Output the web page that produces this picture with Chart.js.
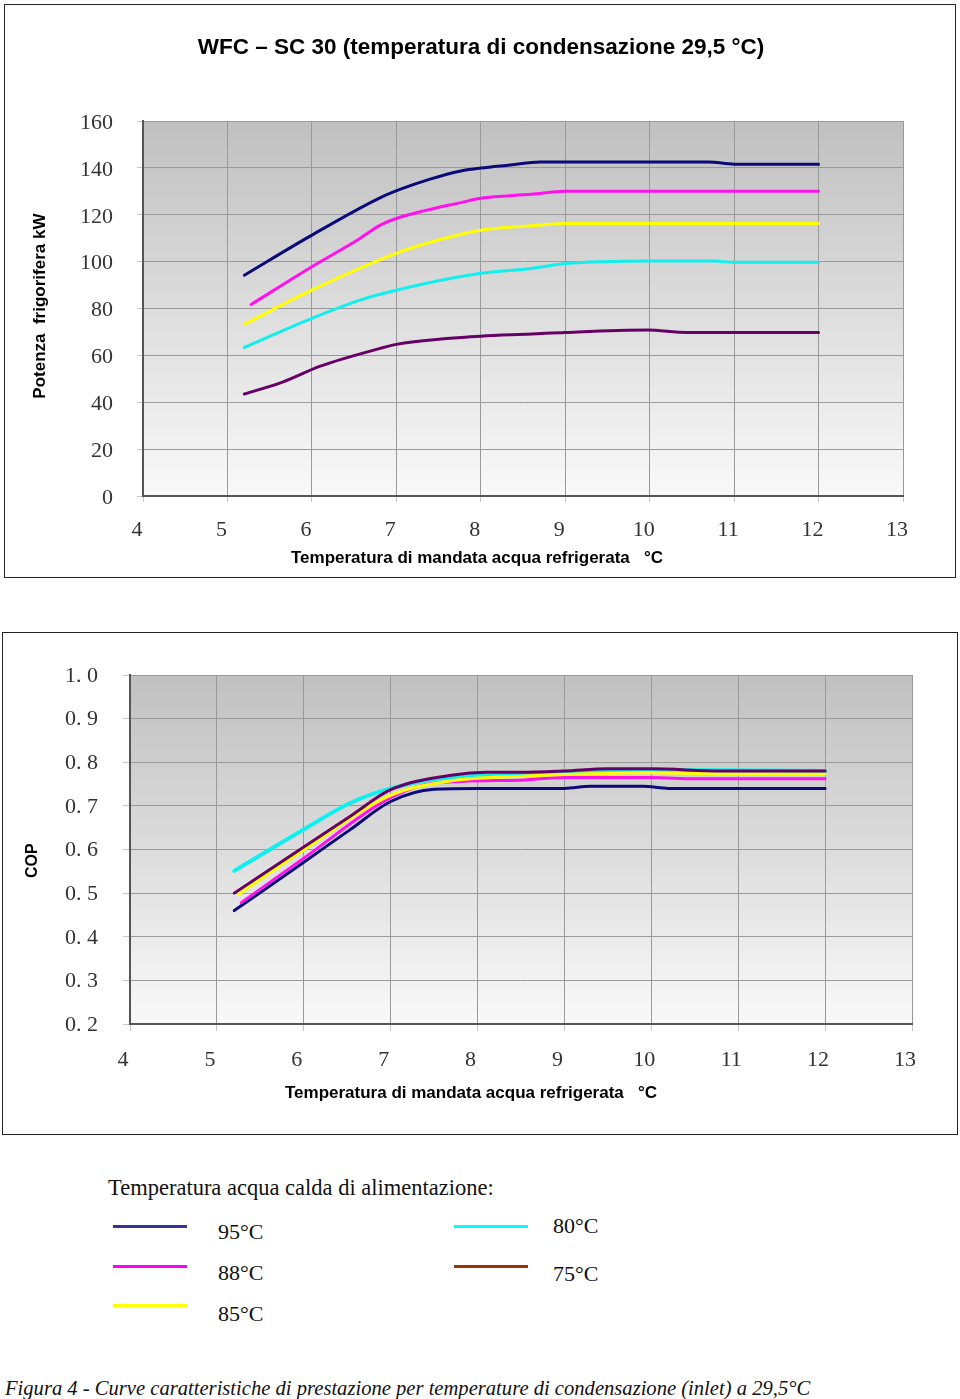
<!DOCTYPE html>
<html>
<head>
<meta charset="utf-8">
<script src="https://cdn.jsdelivr.net/npm/chart.js"></script>
<style>
  body { margin: 0; background: #fff; width: 960px; height: 1399px; position: relative; overflow: hidden; }
  .box { position: absolute; border: 1.5px solid #222; box-sizing: border-box; }
  canvas { position: absolute; }
  .serif { font-family: 'Liberation Serif', 'Times New Roman', serif; color: #111; position: absolute; white-space: nowrap; line-height: 1; }
  .sans { font-family: 'Liberation Sans', Arial, sans-serif; font-weight: bold; color: #000; position: absolute; white-space: nowrap; line-height: 1; transform: translate(-50%, -50%); }
  .swatch { position: absolute; height: 3px; width: 74px; }
</style>
</head>
<body>
<div class="box" style="left:4px;top:4px;width:952px;height:574px;"></div>
<canvas id="kwChart" width="948" height="570" style="left:6px;top:6px;"></canvas>
<div class="sans" style="left:481px;top:47px;font-size:22.5px;">WFC – SC 30 (temperatura di condensazione 29,5 °C)</div>
<div class="sans" style="left:477px;top:557px;font-size:17px;">Temperatura di mandata acqua refrigerata &nbsp;&nbsp;°C</div>

<div class="box" style="left:2px;top:632px;width:956px;height:503px;"></div>
<canvas id="copChart" width="952" height="499" style="left:4px;top:634px;"></canvas>
<div class="sans" style="left:471px;top:1092px;font-size:17px;">Temperatura di mandata acqua refrigerata &nbsp;&nbsp;°C</div>

<div class="serif" style="left:108px;top:1177px;font-size:22.5px;">Temperatura acqua calda di alimentazione:</div>
<div class="swatch" style="left:113px;top:1225px;background:#333399;"></div>
<div class="serif" style="left:218px;top:1221px;font-size:22px;">95°C</div>
<div class="swatch" style="left:113px;top:1265px;background:#ff00ff;"></div>
<div class="serif" style="left:218px;top:1262px;font-size:22px;">88°C</div>
<div class="swatch" style="left:113px;top:1304px;background:#ffff00;"></div>
<div class="serif" style="left:218px;top:1303px;font-size:22px;">85°C</div>
<div class="swatch" style="left:454px;top:1225px;background:#00ffff;"></div>
<div class="serif" style="left:553px;top:1215px;font-size:22px;">80°C</div>
<div class="swatch" style="left:454px;top:1265px;background:#993300;"></div>
<div class="serif" style="left:553px;top:1263px;font-size:22px;">75°C</div>

<div class="serif" style="left:5px;top:1378px;font-size:20.6px;font-style:italic;">Figura 4 - Curve caratteristiche di prestazione per temperature di condensazione (inlet) a 29,5°C</div>

<script>
// valori (x = temperatura di mandata °C)
const serie = ['95°C', '88°C', '85°C', '80°C', '75°C'];
const colori = ['#0a0a78', '#ff11ee', '#ffff00', '#11eeee', '#660066'];

// potenza frigorifera kW
const kw95x = [5.2, 6.0, 6.8, 7.05, 7.4, 7.75, 8.0, 8.35, 8.7, 10.7, 11.0, 12.0];
const kw95y = [94.2, 111.3, 127.1, 130.9, 135.2, 138.6, 139.9, 141.2, 142.5, 142.5, 141.6, 141.6];
const kw88x = [5.28, 6.0, 6.57, 6.81, 7.0, 7.8, 8.0, 8.6, 9.0, 12.0];
const kw88y = [81.7, 97.8, 109.9, 115.6, 118.4, 125.5, 127.0, 128.7, 130.0, 130.0];
const kw85x = [5.2, 6.0, 7.0, 7.5, 8.0, 8.6, 9.0, 12.0];
const kw85y = [73.2, 87.8, 103.5, 109.2, 113.4, 115.3, 116.3, 116.3];
const kw80x = [5.2, 6.0, 6.57, 7.0, 8.0, 8.6, 9.0, 10.0, 10.76, 11.0, 12.0];
const kw80y = [63.4, 75.8, 83.6, 87.8, 95.0, 97.1, 99.2, 100.3, 100.3, 99.7, 99.7];
const kw75x = [5.2, 5.66, 6.1, 6.81, 7.0, 7.6, 8.0, 8.6, 9.0, 9.97, 10.44, 12.0];
const kw75y = [43.5, 48.7, 55.4, 63.0, 64.7, 67.2, 68.2, 69.1, 69.8, 70.8, 69.8, 69.8];

// COP
const cop95x = [5.2, 6.0, 6.53, 7.0, 7.5, 8.0, 9.0, 9.3, 9.9, 10.2, 12.0];
const cop95y = [0.460, 0.571, 0.645, 0.710, 0.738, 0.740, 0.740, 0.745, 0.745, 0.740, 0.740];
const cop88x = [5.28, 6.0, 7.0, 7.5, 8.5, 9.0, 10.0, 10.5, 12.0];
const cop88y = [0.478, 0.580, 0.719, 0.752, 0.759, 0.765, 0.765, 0.762, 0.762];
const cop85x = [5.25, 6.0, 7.0, 7.72, 8.5, 9.0, 10.0, 10.8, 12.0];
const cop85y = [0.497, 0.599, 0.724, 0.758, 0.768, 0.772, 0.776, 0.773, 0.773];
const cop80x = [5.2, 6.0, 6.53, 7.0, 7.72, 8.5, 9.0, 10.0, 12.0];
const cop80y = [0.551, 0.646, 0.706, 0.740, 0.766, 0.771, 0.778, 0.782, 0.780];
const cop75x = [5.2, 6.0, 6.57, 7.0, 7.72, 8.1, 8.5, 9.0, 9.5, 10.0, 10.8, 12.0];
const cop75y = [0.500, 0.606, 0.681, 0.737, 0.771, 0.777, 0.777, 0.780, 0.785, 0.785, 0.780, 0.780];

const copTickLabels = ['0. 2', '0. 3', '0. 4', '0. 5', '0. 6', '0. 7', '0. 8', '0. 9', '1. 0'];

function punti(xs, ys) {
  return xs.map((x, i) => ({ x: x, y: ys[i] }));
}

function linea(label, colore, xs, ys, w) {
  return {
    label: label,
    data: punti(xs, ys),
    borderColor: colore,
    backgroundColor: colore,
    borderWidth: w,
    pointRadius: 0,
    showLine: true,
    tension: 0.3,
    cubicInterpolationMode: 'monotone',
    borderCapStyle: 'round'
  };
}

// sfondo grigio sfumato dell'area del grafico
const plotBg = {
  id: 'plotBg',
  beforeDraw(chart) {
    const { ctx, chartArea: a } = chart;
    const g = ctx.createLinearGradient(0, a.top, 0, a.bottom);
    g.addColorStop(0, '#c0c0c0');
    g.addColorStop(1, '#f9f9f9');
    ctx.save();
    ctx.fillStyle = g;
    ctx.fillRect(a.left, a.top, a.right - a.left, a.bottom - a.top);
    ctx.restore();
  }
};

const tickFont = { family: "'Liberation Serif', 'Times New Roman', serif", size: 22 };
const titleFont = { family: "'Liberation Sans', Arial, sans-serif", size: 17, weight: 'bold' };
const gridStyle = { color: '#9a9a9a', tickColor: '#c8c8c8', lineWidth: 1 };

new Chart(document.getElementById('kwChart'), {
  type: 'scatter',
  data: {
    datasets: [
      linea(serie[0], colori[0], kw95x, kw95y, 3),
      linea(serie[1], colori[1], kw88x, kw88y, 3),
      linea(serie[2], colori[2], kw85x, kw85y, 3),
      linea(serie[3], colori[3], kw80x, kw80y, 3),
      linea(serie[4], colori[4], kw75x, kw75y, 3)
    ]
  },
  options: {
    responsive: false,
    animation: false,
    layout: { padding: { left: 20, right: 51, top: 115, bottom: 8 } },
    plugins: { legend: { display: false }, tooltip: { enabled: false } },
    scales: {
      x: {
        type: 'linear', min: 4, max: 13,
        ticks: { stepSize: 1, color: '#333', font: tickFont, padding: 15, labelOffset: -6, maxRotation: 0 },
        grid: Object.assign({ tickLength: 6 }, gridStyle),
        border: { color: '#555', width: 2 },
        afterFit: s => { s.height = 72; }
      },
      y: {
        min: 0, max: 160,
        ticks: { stepSize: 20, color: '#333', font: tickFont, padding: 24, labelOffset: 2 },
        grid: Object.assign({ tickLength: 6 }, gridStyle),
        border: { color: '#555', width: 2 },
        title: { display: true, text: ' Potenza  frigorifera kW', color: '#000', font: titleFont, padding: { top: 4, bottom: 0 } },
        afterFit: s => { s.width = 117; }
      }
    }
  },
  plugins: [plotBg]
});

new Chart(document.getElementById('copChart'), {
  type: 'scatter',
  data: {
    datasets: [
      linea(serie[4], colori[4], cop75x, cop75y, 3),
      linea(serie[2], colori[2], cop85x, cop85y, 3),
      linea(serie[1], colori[1], cop88x, cop88y, 3),
      linea(serie[0], colori[0], cop95x, cop95y, 3),
      linea(serie[3], colori[3], cop80x, cop80y, 4)
    ]
  },
  options: {
    responsive: false,
    animation: false,
    layout: { padding: { left: 15, right: 44, top: 41, bottom: 29 } },
    plugins: { legend: { display: false }, tooltip: { enabled: false } },
    scales: {
      x: {
        type: 'linear', min: 4, max: 13,
        ticks: { stepSize: 1, color: '#333', font: tickFont, padding: 16, labelOffset: -7, maxRotation: 0 },
        grid: Object.assign({ tickLength: 7 }, gridStyle),
        border: { color: '#555', width: 2 },
        afterFit: s => { s.height = 80; }
      },
      y: {
        min: 0.2, max: 1.0,
        ticks: {
          stepSize: 0.1, color: '#333', font: tickFont, padding: 25, labelOffset: 1,
          callback: (v, i) => copTickLabels[i]
        },
        grid: Object.assign({ tickLength: 7 }, gridStyle),
        border: { color: '#555', width: 2 },
        title: { display: true, text: 'COP     ', color: '#000', font: { family: titleFont.family, size: 16, weight: 'bold' }, padding: { top: 4, bottom: 0 } },
        afterFit: s => { s.width = 111; }
      }
    }
  },
  plugins: [plotBg]
});
</script>
</body>
</html>
